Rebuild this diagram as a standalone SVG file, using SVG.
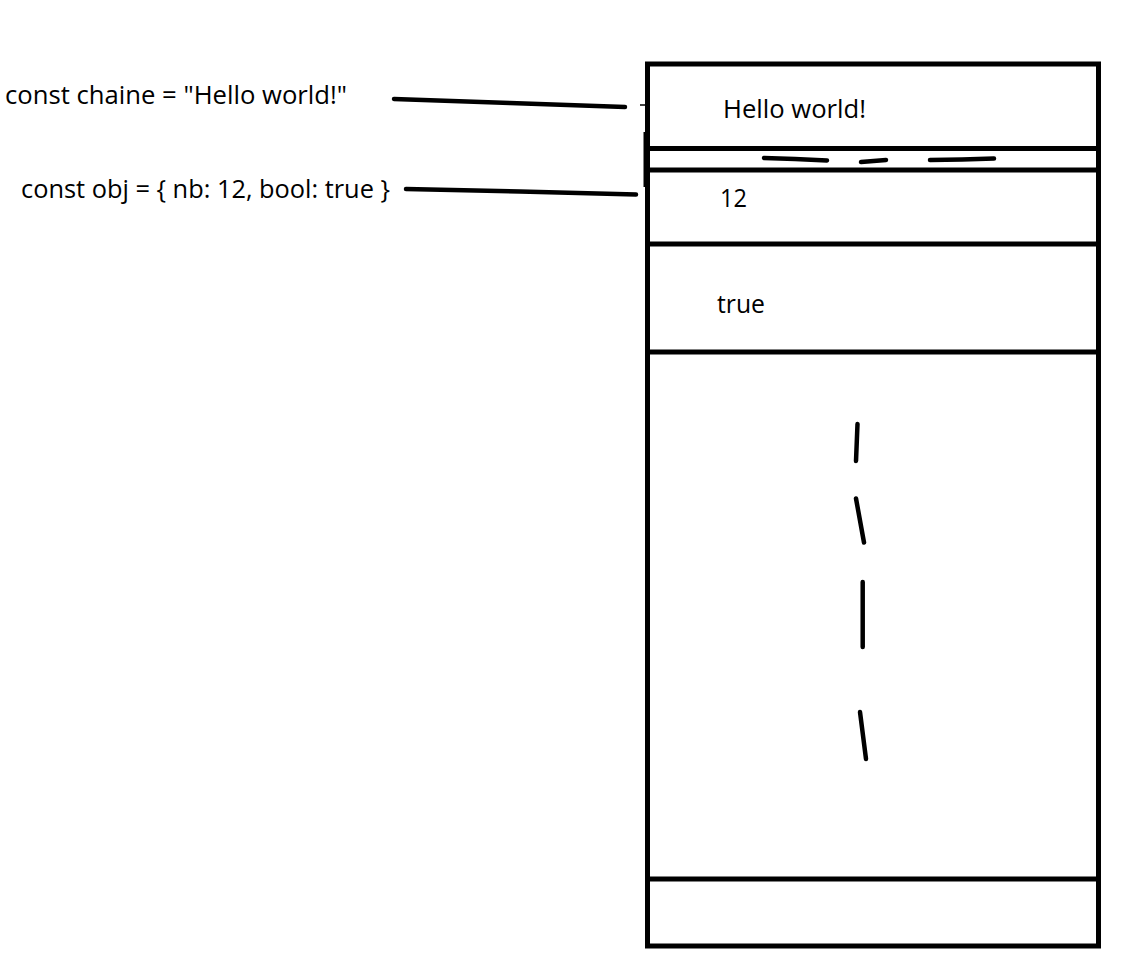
<svg xmlns="http://www.w3.org/2000/svg" width="1124" height="971" viewBox="0 0 1124 971">
<style>
.t{font-family:"Open Sans","Liberation Sans",sans-serif;font-size:25px;fill:#000}
.s{stroke:#000;stroke-width:5;fill:none;stroke-linecap:butt}
.d{stroke:#000;stroke-width:4.5;fill:none;stroke-linecap:round}
</style>
<rect width="1124" height="971" fill="#fff"/>
<g id="labels">
<text class="t" x="5" y="104" textLength="342" lengthAdjust="spacingAndGlyphs">const chaine = "Hello world!"</text>
<text class="t" x="21" y="198" textLength="369" lengthAdjust="spacingAndGlyphs">const obj = { nb: 12, bool: true }</text>
</g>
<g id="memory">
<rect class="s" x="647.5" y="64" width="451" height="882"/>
<line class="s" x1="647" y1="148.5" x2="1098" y2="148.5"/>
<line class="s" x1="647" y1="170" x2="1098" y2="170"/>
<line class="s" x1="647" y1="244" x2="1096" y2="244"/>
<line class="s" x1="647" y1="352" x2="1098" y2="352"/>
<line class="s" x1="647" y1="879" x2="1096" y2="879"/>
</g>
<g id="cell-hello"><text class="t" x="723" y="118" textLength="143" lengthAdjust="spacingAndGlyphs">Hello world!</text></g>
<g id="cell-12"><text class="t" x="720" y="207" textLength="27" lengthAdjust="spacingAndGlyphs">12</text></g>
<g id="cell-true"><text class="t" x="717" y="312.5" textLength="48" lengthAdjust="spacingAndGlyphs">true</text></g>
<g id="gaps">
<path class="d" d="M764 158 L795 159 L827 160.5"/>
<path class="d" d="M861 162 L886 160"/>
<path class="d" d="M930 160 L962 159.5 L994 158.5"/>
<path class="d" d="M857.5 424 L856 461"/>
<path class="d" d="M856 498.5 L864 542.5"/>
<path class="d" d="M862.7 582 L862.7 647"/>
<path class="d" d="M860 712 L866 759"/>
</g>
<g id="connectors">
<path class="d" d="M394 99 L510 103 L625 107"/>
<line stroke="#000" stroke-width="1.5" x1="640" y1="105" x2="647" y2="105"/>
<line stroke="#000" stroke-width="2" x1="644.5" y1="132" x2="644.5" y2="187"/>
<path class="d" d="M406 189 L520 191.5 L636 194.5"/>
</g>
</svg>
